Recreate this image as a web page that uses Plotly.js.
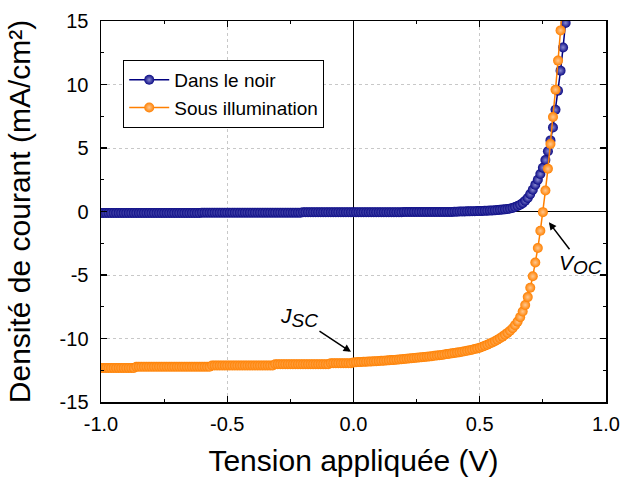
<!DOCTYPE html>
<html>
<head>
<meta charset="utf-8">
<script src="https://cdn.plot.ly/plotly-3.0.1.min.js"></script>
<style>html,body{margin:0;padding:0;background:#fff}#chart{width:622px;height:481px}</style>
</head>
<body>
<div id="chart"></div>
<script>
// Applied voltage (V)
var voltage = [
-1.00,-0.99,-0.98,-0.97,-0.96,-0.95,-0.94,-0.93,-0.92,-0.91,
-0.90,-0.89,-0.88,-0.87,-0.86,-0.85,-0.84,-0.83,-0.82,-0.81,
-0.80,-0.79,-0.78,-0.77,-0.76,-0.75,-0.74,-0.73,-0.72,-0.71,
-0.70,-0.69,-0.68,-0.67,-0.66,-0.65,-0.64,-0.63,-0.62,-0.61,
-0.60,-0.59,-0.58,-0.57,-0.56,-0.55,-0.54,-0.53,-0.52,-0.51,
-0.50,-0.49,-0.48,-0.47,-0.46,-0.45,-0.44,-0.43,-0.42,-0.41,
-0.40,-0.39,-0.38,-0.37,-0.36,-0.35,-0.34,-0.33,-0.32,-0.31,
-0.30,-0.29,-0.28,-0.27,-0.26,-0.25,-0.24,-0.23,-0.22,-0.21,
-0.20,-0.19,-0.18,-0.17,-0.16,-0.15,-0.14,-0.13,-0.12,-0.11,
-0.10,-0.09,-0.08,-0.07,-0.06,-0.05,-0.04,-0.03,-0.02,-0.01,
0.00,0.01,0.02,0.03,0.04,0.05,0.06,0.07,0.08,0.09,
0.10,0.11,0.12,0.13,0.14,0.15,0.16,0.17,0.18,0.19,
0.20,0.21,0.22,0.23,0.24,0.25,0.26,0.27,0.28,0.29,
0.30,0.31,0.32,0.33,0.34,0.35,0.36,0.37,0.38,0.39,
0.40,0.41,0.42,0.43,0.44,0.45,0.46,0.47,0.48,0.49,
0.50,0.51,0.52,0.53,0.54,0.55,0.56,0.57,0.58,0.59,
0.60,0.61,0.62,0.63,0.64,0.65,0.66,0.67,0.68,0.69,
0.70,0.71,0.72,0.73,0.74,0.75,0.76,0.77,0.78,0.79,
0.80,0.81,0.82,0.83,0.84,0.85
];

// Current density in the dark (mA/cm²)
var darkCurrent = [
-0.12,-0.12,-0.12,-0.12,-0.12,-0.12,-0.12,-0.12,-0.12,-0.12,
-0.12,-0.12,-0.12,-0.12,-0.12,-0.12,-0.12,-0.12,-0.12,-0.12,
-0.12,-0.12,-0.12,-0.12,-0.12,-0.12,-0.12,-0.12,-0.12,-0.12,
-0.12,-0.12,-0.12,-0.12,-0.12,-0.12,-0.12,-0.12,-0.12,-0.12,
-0.09,-0.09,-0.09,-0.09,-0.09,-0.09,-0.09,-0.09,-0.09,-0.09,
-0.09,-0.09,-0.09,-0.09,-0.09,-0.09,-0.09,-0.09,-0.09,-0.09,
-0.09,-0.09,-0.09,-0.09,-0.09,-0.09,-0.09,-0.09,-0.09,-0.09,
-0.09,-0.09,-0.09,-0.09,-0.09,-0.09,-0.09,-0.09,-0.09,-0.09,
-0.06,-0.06,-0.06,-0.06,-0.06,-0.06,-0.06,-0.06,-0.06,-0.06,
-0.06,-0.06,-0.06,-0.06,-0.06,-0.06,-0.06,-0.06,-0.06,-0.06,
-0.06,-0.06,-0.06,-0.06,-0.06,-0.06,-0.06,-0.06,-0.06,-0.06,
-0.06,-0.06,-0.06,-0.06,-0.06,-0.06,-0.06,-0.06,-0.06,-0.06,
-0.03,-0.03,-0.03,-0.03,-0.03,-0.03,-0.03,-0.03,-0.03,-0.03,
-0.03,-0.03,-0.03,-0.03,-0.03,-0.03,-0.03,-0.03,-0.03,-0.03,
-0.01,-0.01,0.00,0.00,0.00,0.01,0.01,0.02,0.02,0.03,
0.03,0.04,0.05,0.06,0.07,0.08,0.09,0.11,0.13,0.15,
0.17,0.20,0.23,0.28,0.35,0.43,0.53,0.66,0.84,1.06,
1.37,1.71,2.10,2.50,2.95,3.45,4.05,4.75,5.60,6.62,
8.01,9.51,11.09,12.92,14.85,16.90
];

// Current density under illumination (mA/cm²)
var lightCurrent = [
-12.32,-12.32,-12.32,-12.32,-12.32,-12.32,-12.32,-12.32,-12.32,-12.32,
-12.32,-12.32,-12.32,-12.32,-12.23,-12.23,-12.23,-12.23,-12.23,-12.23,
-12.23,-12.23,-12.23,-12.23,-12.23,-12.23,-12.23,-12.23,-12.23,-12.23,
-12.23,-12.23,-12.23,-12.23,-12.23,-12.23,-12.23,-12.23,-12.23,-12.23,
-12.23,-12.23,-12.23,-12.23,-12.13,-12.13,-12.13,-12.13,-12.13,-12.13,
-12.13,-12.13,-12.13,-12.13,-12.13,-12.13,-12.13,-12.13,-12.13,-12.13,
-12.13,-12.13,-12.13,-12.13,-12.13,-12.13,-12.13,-12.13,-12.13,-12.03,
-12.03,-12.03,-12.03,-12.03,-12.03,-12.03,-12.03,-12.03,-12.03,-12.03,
-12.03,-12.03,-12.03,-12.03,-12.03,-12.03,-12.03,-12.03,-12.03,-12.03,
-12.03,-11.95,-11.95,-11.95,-11.95,-11.95,-11.95,-11.95,-11.95,-11.95,
-11.88,-11.87,-11.86,-11.85,-11.84,-11.83,-11.82,-11.81,-11.80,-11.79,
-11.77,-11.76,-11.75,-11.73,-11.72,-11.70,-11.69,-11.67,-11.65,-11.63,
-11.61,-11.59,-11.57,-11.55,-11.53,-11.51,-11.49,-11.47,-11.45,-11.43,
-11.41,-11.39,-11.36,-11.34,-11.31,-11.29,-11.26,-11.23,-11.20,-11.17,
-11.14,-11.11,-11.08,-11.04,-11.01,-10.97,-10.93,-10.88,-10.83,-10.78,
-10.72,-10.65,-10.57,-10.49,-10.40,-10.31,-10.21,-10.10,-9.98,-9.85,
-9.71,-9.56,-9.39,-9.19,-8.95,-8.67,-8.32,-7.88,-7.36,-6.74,
-6.00,-5.10,-4.02,-2.88,-1.52,-0.05,1.65,3.36,5.31,7.44,
9.59,11.88,14.26,16.70
];

var seriesNames = ['Dans le noir', 'Sous illumination'];
var xTickVals = [-1.0, -0.5, 0.0, 0.5, 1.0];
var xTickText = ['-1.0', '-0.5', '0.0', '0.5', '1.0'];
var yTickVals = [-15, -10, -5, 0, 5, 10, 15];
var yTickText = ['-15', '-10', '-5', '0', '5', '10', '15'];
var xMinorTickVals = [-0.75, -0.25, 0.25, 0.75];
var yMinorTickVals = [-12.5, -7.5, -2.5, 2.5, 7.5, 12.5];

var FONT = 'Liberation Sans, Arial, sans-serif';

var traces = [
  {
    x: voltage, y: darkCurrent, name: seriesNames[0],
    type: 'scatter', mode: 'lines+markers',
    line: {color: '#000080', width: 1.5},
    marker: {color: '#0a0a85', size: 10, line: {width: 0},
             gradient: {type: 'radial', color: '#8a8ad0'}},
    cliponaxis: true
  },
  {
    x: voltage, y: lightCurrent, name: seriesNames[1],
    type: 'scatter', mode: 'lines+markers',
    line: {color: '#ff7f00', width: 1.5},
    marker: {color: '#ff8000', size: 10, line: {width: 0},
             gradient: {type: 'radial', color: '#ffc890'}},
    cliponaxis: true
  },
  // empty helper trace so the minor-tick overlay axes exist
  {x: [], y: [], xaxis: 'x2', yaxis: 'y2', type: 'scatter', mode: 'markers',
   showlegend: false, hoverinfo: 'skip'}
];

var axisCommon = {
  showline: true, linecolor: '#000', linewidth: 1.5, mirror: 'ticks',
  ticks: 'inside', ticklen: 6, tickwidth: 1.2, tickcolor: '#000',
  showgrid: true, gridcolor: '#c8c8c8', griddash: 'dot', gridwidth: 1,
  zeroline: true, zerolinecolor: '#000', zerolinewidth: 1.2,
  tickfont: {family: FONT, size: 20, color: '#000'},
  tickmode: 'array'
};

var minorCommon = {
  showline: true, linecolor: '#000', linewidth: 1.5, mirror: 'ticks',
  ticks: 'inside', ticklen: 3, tickwidth: 1.2, tickcolor: '#000',
  showgrid: false, zeroline: false, showticklabels: false, tickmode: 'array'
};

var layout = {
  width: 622, height: 481,
  margin: {l: 101, r: 16, t: 21, b: 79},
  paper_bgcolor: '#fff', plot_bgcolor: '#fff',
  font: {family: FONT, color: '#000'},
  showlegend: true,
  legend: {
    x: 0.044, y: 0.898, xanchor: 'left', yanchor: 'top',
    bgcolor: '#fff', bordercolor: '#000', borderwidth: 1,
    font: {family: FONT, size: 19, color: '#000'},
    itemwidth: 40, tracegroupgap: 0
  },
  xaxis: Object.assign({}, axisCommon, {
    range: [-1, 1], tickvals: xTickVals, ticktext: xTickText,
    ticklabelstandoff: 3,
    title: {text: 'Tension appliquée (V)', font: {family: FONT, size: 30, color: '#000'}, standoff: 16}
  }),
  yaxis: Object.assign({}, axisCommon, {
    range: [-15, 15], tickvals: yTickVals, ticktext: yTickText,
    ticklabelstandoff: 7,
    title: {text: 'Densité de courant (mA/cm²)', font: {family: FONT, size: 30, color: '#000'}, standoff: 20}
  }),
  xaxis2: Object.assign({}, minorCommon, {
    overlaying: 'x', anchor: 'y2', range: [-1, 1], tickvals: xMinorTickVals
  }),
  yaxis2: Object.assign({}, minorCommon, {
    overlaying: 'y', anchor: 'x2', range: [-15, 15], tickvals: yMinorTickVals
  }),
  annotations: [
    {
      x: -0.01, y: -11.05, xref: 'x', yref: 'y',
      text: '<i>J<sub><span style="font-size:19px">SC</span></sub></i>',
      font: {family: FONT, size: 21, color: '#000'},
      showarrow: true, arrowhead: 2, arrowsize: 1, arrowwidth: 1.5, arrowcolor: '#000',
      ax: -52, ay: -34
    },
    {
      x: 0.774, y: -0.85, xref: 'x', yref: 'y',
      text: '<i>V<sub><span style="font-size:19px">OC</span></sub></i>',
      font: {family: FONT, size: 21, color: '#000'},
      showarrow: true, arrowhead: 2, arrowsize: 1, arrowwidth: 1.5, arrowcolor: '#000',
      ax: 32, ay: 42
    }
  ]
};

Plotly.newPlot('chart', traces, layout, {displayModeBar: false, staticPlot: true});
</script>
</body>
</html>
